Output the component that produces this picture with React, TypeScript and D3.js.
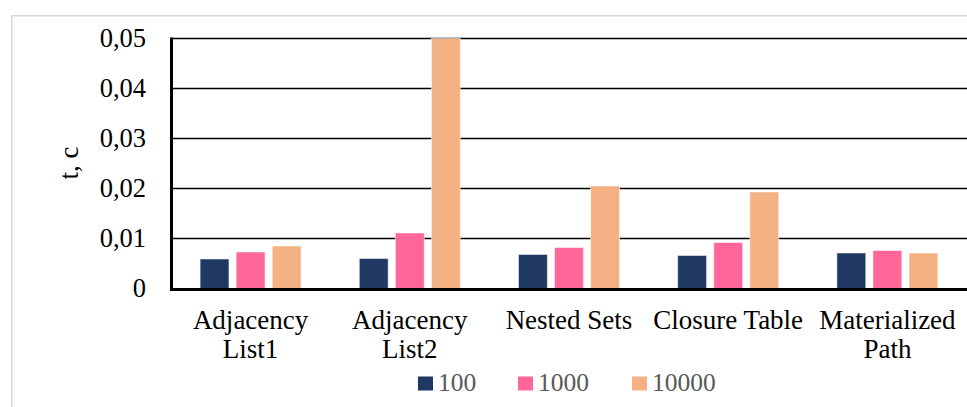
import React from "react";
import * as d3 from "d3";

const categories = [
  ["Adjacency", "List1"],
  ["Adjacency", "List2"],
  ["Nested Sets"],
  ["Closure Table"],
  ["Materialized", "Path"],
];
const seriesNames = ["100", "1000", "10000"];
const values100 = [0.0059, 0.006, 0.0068, 0.0066, 0.0071];
const values1000 = [0.0073, 0.0111, 0.0082, 0.0092, 0.0076];
const values10000 = [0.0085, 0.05, 0.0205, 0.0193, 0.0071];
const yTicks = [0, 0.01, 0.02, 0.03, 0.04, 0.05];
const colors = ["#203864", "#FF6699", "#F4B183"];

const W = 967;
const H = 407;
const FONT = "'Liberation Serif', 'Times New Roman', serif";

export default function App() {
  const series = [values100, values1000, values10000];
  const catKeys = categories.map((c) => c.join(" "));
  const x = d3.scaleBand<string>().domain(catKeys).range([171, 967]).padding(0);
  const y = d3.scaleLinear().domain([0, 0.05]).range([288.5, 38.5]);
  const inner = d3
    .scaleBand<string>()
    .domain(seriesNames)
    .range([0, 101])
    .paddingInner(0.2);
  const fmt = (v: number) => (v === 0 ? "0" : d3.format(".2f")(v).replace(".", ","));

  const legendItems = [
    { name: "100", sx: 418, tx: 438 },
    { name: "1000", sx: 518, tx: 538 },
    { name: "10000", sx: 632, tx: 652 },
  ];

  return (
    <svg
      width={W}
      height={H}
      style={{ position: "absolute", left: 0, top: 0, background: "#fff" }}
      fontFamily={FONT}
    >
      {/* chart frame */}
      <path d={`M11.75,${H} V15.75 H${W}`} fill="none" stroke="#d9d9d9" strokeWidth={1.5} />

      {/* gridlines */}
      {yTicks.slice(1).map((t) => (
        <line key={t} x1={171} x2={W} y1={y(t)} y2={y(t)} stroke="#000" strokeWidth={1.6} />
      ))}

      {/* bars */}
      {catKeys.map((c, i) => {
        const cx = (x(c) as number) + x.bandwidth() / 2 - 50.5;
        return seriesNames.map((s, j) => {
          const v = series[j][i];
          return (
            <rect
              key={c + s}
              x={cx + (inner(s) as number)}
              y={y(v)}
              width={inner.bandwidth()}
              height={y(0) - y(v)}
              fill={colors[j]}
              stroke="#ffffff"
              strokeOpacity={0.5}
              strokeWidth={1}
            />
          );
        });
      })}

      {/* axes */}
      <line x1={171.5} x2={171.5} y1={37.5} y2={290} stroke="#000" strokeWidth={3} />
      <line x1={170} x2={W} y1={289.5} y2={289.5} stroke="#000" strokeWidth={3} />

      {/* y tick labels */}
      {yTicks.map((t) => (
        <text key={t} x={146} y={y(t) + 8.5} textAnchor="end" fontSize={26.5} fill="#000">
          {fmt(t)}
        </text>
      ))}

      {/* y axis title */}
      <text
        transform="translate(78,163) rotate(-90)"
        textAnchor="middle"
        fontSize={27}
        fill="#000"
      >
        t, c
      </text>

      {/* category labels */}
      {categories.map((lines, i) => {
        const cx = (x(catKeys[i]) as number) + x.bandwidth() / 2;
        return (
          <text key={i} x={cx} textAnchor="middle" fontSize={27} fill="#000">
            {lines.map((l, k) => (
              <tspan key={k} x={cx} y={329 + k * 29}>
                {l}
              </tspan>
            ))}
          </text>
        );
      })}

      {/* legend */}
      {legendItems.map((it, j) => (
        <g key={it.name}>
          <rect x={it.sx} y={376.5} width={15} height={14} fill={colors[j]} />
          <text x={it.tx} y={391} fontSize={25.5} fill="#595959">
            {seriesNames[j]}
          </text>
        </g>
      ))}
    </svg>
  );
}
